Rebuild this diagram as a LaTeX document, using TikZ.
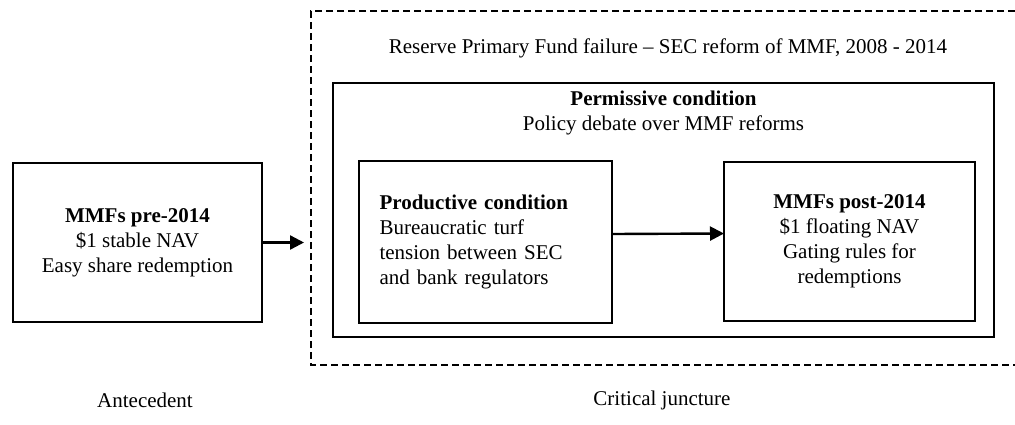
\documentclass[tikz,border=0pt]{standalone}
\usepackage{fontspec}
\setmainfont{Liberation Serif}
\usetikzlibrary{arrows.meta}
\begin{document}
\begin{tikzpicture}[x=1pt,y=-1pt,
  box/.style={draw,line width=2.4pt,inner sep=0pt,outer sep=0pt},
  txt/.style={font=\fontsize{21}{25}\selectfont,align=center,inner sep=0pt},
  arr/.style={line width=2.4pt,-{Triangle[length=14pt,width=14pt]}},
  dashbox/.style={line width=2pt,dash pattern=on 7pt off 4pt}]
\useasboundingbox (0,0) rectangle (1015,424);
% dashed critical juncture frame (open on the right, cropped)
\coordinate (dtr) at (1015,11);
\coordinate (dtl) at (311,11);
\coordinate (dbl) at (311,365);
\coordinate (dbr) at (1015,365);
\draw[dashbox] (dtr) -- (dtl) -- (dbl) -- (dbr);
\node[txt] (title) at (668,48) {Reserve Primary Fund failure -- SEC reform of MMF, 2008 - 2014};
% permissive box
\node[box,minimum width=661pt,minimum height=254pt] (perm) at (663.5,210) {};
\node[txt,anchor=north] (permlbl) at (663.5,91) {\textbf{Permissive condition}\\Policy debate over MMF reforms};
% inner boxes
\node[box,minimum width=249pt,minimum height=159pt,txt] (pre) at (137.5,242.5)
  {\textbf{MMFs pre-2014}\\\$1 stable NAV\\Easy share redemption};
\node[box,minimum width=253pt,minimum height=162pt,txt,text width=212pt,align=left] (prod) at (485.5,242)
  {\textbf{Productive condition}\\Bureaucratic turf\\tension between SEC\\and bank regulators};
\node[box,minimum width=251pt,minimum height=159pt,txt] (post) at (849.5,241.5)
  {\textbf{MMFs post-2014}\\\$1 floating NAV\\Gating rules for\\redemptions};
% arrows
\coordinate (a1) at (304,242.5);
\draw[arr] (pre.east) -- (a1);
\draw[arr] ([yshift=8pt]prod.east) -- ([yshift=8pt]post.west);
% bottom labels
\node[txt] (ante) at (145,400) {Antecedent};
\node[txt] (crit) at (662,400) {Critical juncture};
\end{tikzpicture}
\end{document}
